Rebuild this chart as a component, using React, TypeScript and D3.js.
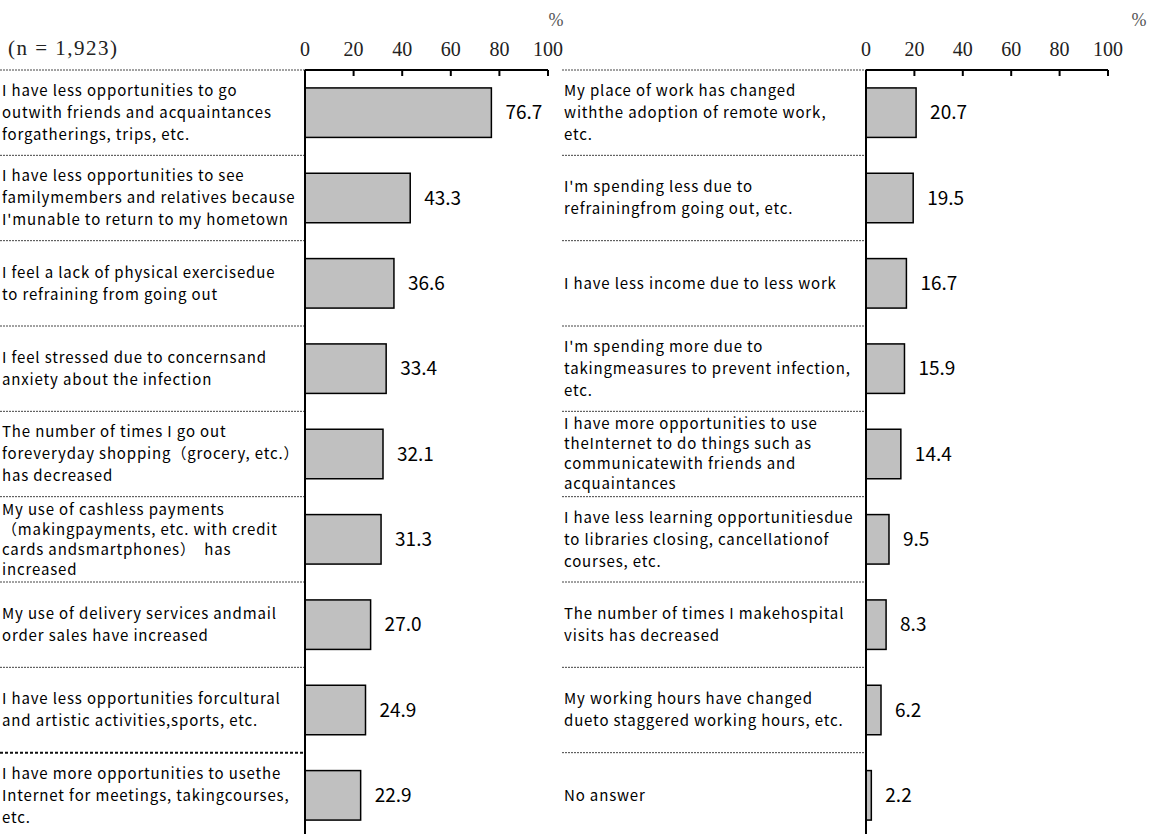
import React from "react";
import * as d3 from "d3";

const leftLabels: string[][] = [
  ["I have less opportunities to go", "outwith friends and acquaintances", "forgatherings, trips, etc."],
  ["I have less opportunities to see", "familymembers and relatives because", "I'munable to return to my hometown"],
  ["I feel a lack of physical exercisedue", "to refraining from going out"],
  ["I feel stressed due to concernsand", "anxiety about the infection"],
  ["The number of times I go out", "foreveryday shopping（grocery, etc.）", "has decreased"],
  ["My use of cashless payments", "（makingpayments, etc. with credit", "cards andsmartphones）  has", "increased"],
  ["My use of delivery services andmail", "order sales have increased"],
  ["I have less opportunities forcultural", "and artistic activities,sports, etc."],
  ["I have more opportunities to usethe", "Internet for meetings, takingcourses,", "etc."],
];
const leftValues: number[] = [76.7, 43.3, 36.6, 33.4, 32.1, 31.3, 27.0, 24.9, 22.9];

const rightLabels: string[][] = [
  ["My place of work has changed", "withthe adoption of remote work,", "etc."],
  ["I'm spending less due to", "refrainingfrom going out, etc."],
  ["I have less income due to less work"],
  ["I'm spending more due to", "takingmeasures to prevent infection,", "etc."],
  ["I have more opportunities to use", "theInternet to do things such as", "communicatewith friends and", "acquaintances"],
  ["I have less learning opportunitiesdue", "to libraries closing, cancellationof", "courses, etc."],
  ["The number of times I makehospital", "visits has decreased"],
  ["My working hours have changed", "dueto staggered working hours, etc."],
  ["No answer"],
];
const rightValues: number[] = [20.7, 19.5, 16.7, 15.9, 14.4, 9.5, 8.3, 6.2, 2.2];

const tickValues: number[] = [0, 20, 40, 60, 80, 100];
const sampleNote = "(n = 1,923)";

const W = 1153;
const H = 834;
const TOP = 70;
const BOTTOM = 838;
const SERIF = "'Liberation Serif', 'DejaVu Serif', serif";
const SANS = "'Noto Sans CJK JP', 'Noto Sans', sans-serif";

function Panel({ labels, values, x0, x1, sepX0, pctX, boldLast }: {
  labels: string[][]; values: number[]; x0: number; x1: number; sepX0: number; pctX: number; boldLast: boolean;
}) {
  const x = d3.scaleLinear().domain([0, 100]).range([x0, x1]);
  const idx = d3.range(values.length).map(String);
  const y = d3.scaleBand<string>().domain(idx).range([TOP, BOTTOM]).paddingInner(0.42).paddingOuter(0.21);
  const rowH = (BOTTOM - TOP) / values.length;
  return (
    <g>
      {d3.range(values.length).map((i) => {
        const yy = TOP + i * rowH;
        const bold = boldLast && i === values.length - 1;
        return (
          <line key={"s" + i} x1={sepX0} x2={x0} y1={yy} y2={yy}
            stroke={bold ? "#111" : "#444"} strokeWidth={bold ? 2 : 1}
            strokeDasharray={bold ? "3,2" : "2,1"} />
        );
      })}
      {values.map((v, i) => (
        <rect key={"b" + i} x={x(0)} y={y(String(i))!} width={x(v) - x(0)} height={y.bandwidth()}
          fill="#c0c0c0" stroke="#000" strokeWidth={1.5} />
      ))}
      {values.map((v, i) => (
        <text key={"v" + i} x={x(v) + 14} y={y(String(i))! + y.bandwidth() / 2} dy="0.35em"
          fontFamily={SANS} fontSize={19} fill="#000">{v.toFixed(1)}</text>
      ))}
      {labels.map((lines, i) => {
        const cy = TOP + (i + 0.5) * rowH;
        const lh = lines.length >= 4 ? 20 : 22;
        return (
          <text key={"l" + i} fontFamily={SANS} fontSize={15} letterSpacing={0.85} fill="#000">
            {lines.map((ln, j) => (
              <tspan key={j} x={sepX0 + 2} y={cy + (j - (lines.length - 1) / 2) * lh} dy="0.35em"
                style={{ whiteSpace: "pre" }}>{ln}</tspan>
            ))}
          </text>
        );
      })}
      <line x1={x(0)} x2={x(0)} y1={TOP} y2={H} stroke="#000" strokeWidth={2} />
      <line x1={x(0)} x2={x(100)} y1={TOP} y2={TOP} stroke="#000" strokeWidth={2} />
      {tickValues.map((t) => (
        <g key={"t" + t}>
          <line x1={x(t)} x2={x(t)} y1={TOP} y2={TOP + 6} stroke="#000" strokeWidth={2} />
          <text x={x(t)} y={49} dy="0.35em" textAnchor="middle" fontFamily={SERIF} fontSize={20} fill="#222">{t}</text>
        </g>
      ))}
      <text x={pctX} y={20} dy="0.35em" textAnchor="middle" fontFamily={SERIF} fontSize={18} fill="#555">%</text>
    </g>
  );
}

export default function App() {
  return (
    <svg width={W} height={H} style={{ position: "absolute", left: 0, top: 0, background: "#fff" }}>
      <rect width={W} height={H} fill="#fff" />
      <text x={8} y={48} dy="0.35em" fontFamily={SERIF} fontSize={21} letterSpacing={1.5} fill="#222">{sampleNote}</text>
      <Panel labels={leftLabels} values={leftValues} x0={305} x1={548} sepX0={0} pctX={556} boldLast={true} />
      <Panel labels={rightLabels} values={rightValues} x0={866} x1={1108} sepX0={562} pctX={1139} boldLast={false} />
    </svg>
  );
}
